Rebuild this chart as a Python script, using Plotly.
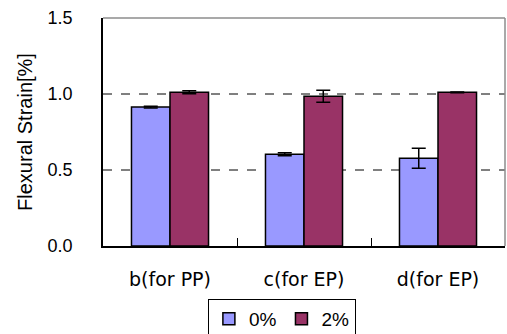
import plotly.graph_objects as go

categories = ["b(for PP)", "c(for EP)", "d(for EP)"]
series_names = ["0%", "2%"]
vals_0 = [0.914, 0.603, 0.577]
err_0 = [0.006, 0.010, 0.066]
vals_2 = [1.011, 0.985, 1.011]
err_2 = [0.010, 0.040, 0.002]
colors = ["#9999FF", "#993366"]
y_ticks = [0.0, 0.5, 1.0, 1.5]
grid_vals = [0.5, 1.0]

fig = go.Figure()
for name, vals, errs, col in [(series_names[0], vals_0, err_0, colors[0]),
                              (series_names[1], vals_2, err_2, colors[1])]:
    fig.add_trace(go.Bar(
        x=categories, y=vals, name=name,
        marker=dict(color=col, line=dict(color="black", width=1.5)),
        error_y=dict(type="data", array=errs, color="black", thickness=1.5, width=7),
    ))

for g in grid_vals:
    fig.add_shape(type="line", xref="paper", yref="y", x0=0, x1=1, y0=g, y1=g,
                  line=dict(color="black", width=1, dash="dash"), layer="between")
# top and right frame edges (gray)
fig.add_shape(type="line", xref="paper", yref="paper", x0=0, x1=1, y0=1, y1=1,
              line=dict(color="#8c8c8c", width=1.5), layer="above")
fig.add_shape(type="line", xref="paper", yref="paper", x0=1, x1=1, y0=0, y1=1,
              line=dict(color="#8c8c8c", width=1.5), layer="above")

fig.update_layout(
    width=507, height=334,
    margin=dict(l=103, r=2, t=18, b=88, autoexpand=False),
    paper_bgcolor="white", plot_bgcolor="white",
    barmode="group", bargap=0.425, bargroupgap=0,
    showlegend=True,
    legend=dict(orientation="h", xref="container", yref="container",
                x=0.556, xanchor="center", y=0.105, yanchor="top",
                bordercolor="black", borderwidth=1,
                font=dict(family="Liberation Sans, Arial", size=19, color="black"),
                itemwidth=30, tracegroupgap=0),
    font=dict(family="Liberation Sans, Arial", color="black"),
)
fig.update_xaxes(
    showline=True, linecolor="black", linewidth=1.5, automargin=False,
    tickson="boundaries", ticks="inside", ticklen=8, tickcolor="black",
    tickfont=dict(family="DejaVu Sans", size=19, color="black"),
    ticklabelstandoff=15, showgrid=False,
)
fig.update_yaxes(
    range=[0, 1.5], tickvals=y_ticks, ticktext=[f"{v:.1f}" for v in y_ticks],
    showline=True, linecolor="black", linewidth=1.5, showgrid=False, automargin=False,
    ticks="", ticklabelstandoff=25, zeroline=False,
    tickfont=dict(family="Liberation Sans, Arial", size=18, color="black"),
    title=dict(text="Flexural Strain[%]", standoff=10,
               font=dict(family="Liberation Sans, Arial", size=20, color="black")),
)

fig.write_html("out.html", config={"displayModeBar": False},
               post_script="document.body.style.margin='0';document.body.style.padding='0';")
